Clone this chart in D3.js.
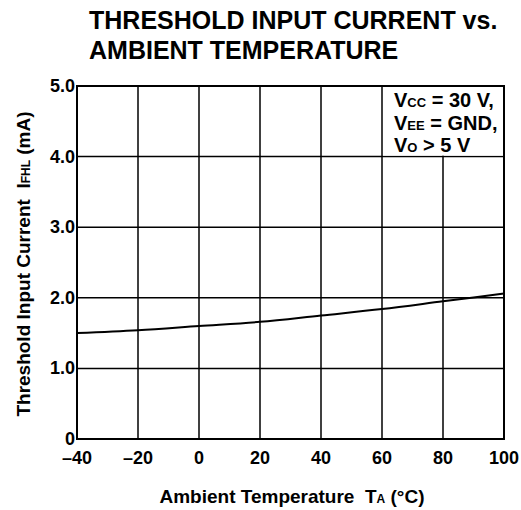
<!DOCTYPE html>
<html>
<head>
<meta charset="utf-8">
<script src="https://cdn.jsdelivr.net/npm/d3@7"></script>
<style>
  body { margin: 0; background: #fff; }
  text { font-family: "Liberation Sans", Arial, sans-serif; font-weight: bold; fill: #000; }
</style>
</head>
<body>
<script>
// Data
var temps = [-40, -20, 0, 20, 40, 60, 80, 100];
var current = [1.5, 1.54, 1.6, 1.66, 1.75, 1.84, 1.95, 2.06];
var xTicks = [-40, -20, 0, 20, 40, 60, 80, 100];
var yTicks = [0, 1, 2, 3, 4, 5];
var yTickLabels = ["0", "1.0", "2.0", "3.0", "4.0", "5.0"];

var w = 521, h = 510;
var plotLeft = 77, plotRight = 504, plotTop = 86, plotBottom = 439;

var svg = d3.select("body").append("svg")
	.attr("width", w)
	.attr("height", h);

var x = d3.scaleLinear().domain([-40, 100]).range([plotLeft, plotRight]);
var y = d3.scaleLinear().domain([0, 5]).range([plotBottom, plotTop]);

// Title
var title = svg.append("text").attr("x", 89).attr("y", 29).style("font-size", "25px");
title.append("tspan").attr("x", 89).text("THRESHOLD INPUT CURRENT vs.");
title.append("tspan").attr("x", 89).attr("dy", 30).text("AMBIENT TEMPERATURE");

// Grid
svg.append("g").selectAll("line").data(xTicks.slice(1, -1)).enter().append("line")
	.attr("x1", function (d) {return x(d);}).attr("x2", function (d) {return x(d);})
	.attr("y1", plotTop).attr("y2", plotBottom)
	.attr("stroke", "#000").attr("stroke-width", 1.5);

svg.append("g").selectAll("line").data(yTicks.slice(1, -1)).enter().append("line")
	.attr("x1", plotLeft).attr("x2", plotRight)
	.attr("y1", function (d) {return y(d);}).attr("y2", function (d) {return y(d);})
	.attr("stroke", "#000").attr("stroke-width", 1.5);

// Annotation box hides grid in the corner
svg.append("rect")
	.attr("x", x(60) + 1).attr("y", y(5) + 1)
	.attr("width", x(100) - x(60) - 2).attr("height", y(4) - y(5) - 2)
	.attr("fill", "#fff");

// Frame
svg.append("rect")
	.attr("x", plotLeft).attr("y", plotTop)
	.attr("width", plotRight - plotLeft).attr("height", plotBottom - plotTop)
	.attr("fill", "none").attr("stroke", "#000").attr("stroke-width", 2);

// Curve
var line = d3.line()
	.x(function (d, i) {return x(temps[i]);})
	.y(function (d) {return y(d);})
	.curve(d3.curveMonotoneX);

svg.append("path")
	.datum(current)
	.attr("d", line)
	.attr("fill", "none")
	.attr("stroke", "#000")
	.attr("stroke-width", 2);

// Tick labels
svg.append("g").selectAll("text").data(xTicks).enter().append("text")
	.attr("x", function (d) {return x(d);})
	.attr("y", 464)
	.attr("text-anchor", "middle")
	.style("font-size", "18px")
	.text(function (d) {return d < 0 ? "\u2013" + Math.abs(d) : d;});

svg.append("g").selectAll("text").data(yTicks).enter().append("text")
	.attr("x", plotLeft - 2)
	.attr("y", function (d) {return y(d) + 6;})
	.attr("text-anchor", "end")
	.style("font-size", "18px")
	.text(function (d, i) {return yTickLabels[i];});

// Annotation
var notes = [["V", "CC", " = 30 V,"], ["V", "EE", " = GND,"], ["V", "O", " > 5 V"]];
notes.forEach(function (n, i) {
	var t = svg.append("text")
		.attr("x", 394)
		.attr("y", 107 + i * 22.5)
		.style("font-size", "20px");
	t.append("tspan").text(n[0]);
	t.append("tspan").style("font-size", "13px").text(n[1]);
	t.append("tspan").text(n[2]);
});

// Axis titles
var xt = svg.append("text")
	.attr("x", 292).attr("y", 503)
	.attr("text-anchor", "middle")
	.style("font-size", "19px");
xt.append("tspan").text("Ambient Temperature \u00a0T");
xt.append("tspan").style("font-size", "12px").text("A");
xt.append("tspan").text(" (\u00b0C)");

var yt = svg.append("text")
	.attr("transform", "translate(30,264) rotate(-90)")
	.attr("text-anchor", "middle")
	.style("font-size", "19px");
yt.append("tspan").text("Threshold Input Current \u00a0I");
yt.append("tspan").style("font-size", "12px").text("FHL");
yt.append("tspan").text(" (mA)");
</script>
</body>
</html>
